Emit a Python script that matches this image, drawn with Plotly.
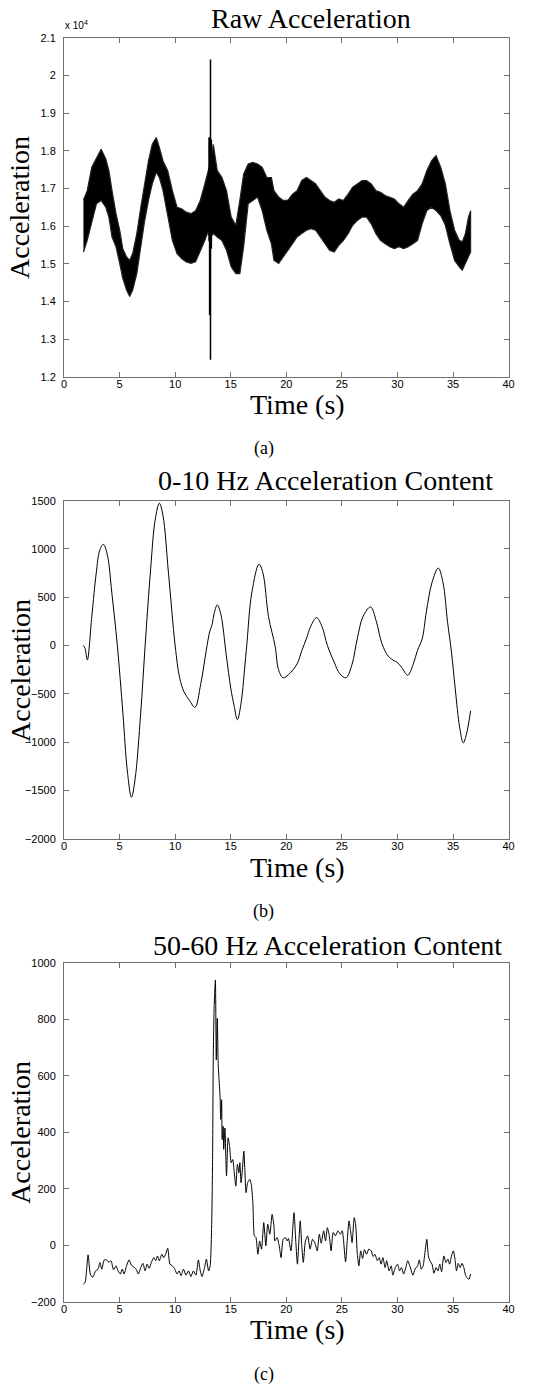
import plotly.graph_objects as go

# ---------------- Panel (a): raw acceleration (envelope of dense signal) -------------
raw_t = [1.75, 2.09, 2.5, 2.92, 3.34, 3.76, 4.04, 4.32, 4.68, 5.01,
         5.29, 5.63, 5.91, 6.18, 6.55, 6.91, 7.24, 7.6, 7.94, 8.3,
         8.58, 8.91, 9.33, 9.75, 10.17, 10.58, 11.0, 11.42, 11.84, 12.26,
         12.67, 12.95, 13.18, 13.43, 13.79, 14.21, 14.62, 15.04, 15.46, 15.82,
         16.16, 16.57, 16.99, 17.41, 17.83, 18.25, 18.66, 18.89, 19.31, 19.72,
         20.14, 20.56, 20.97, 21.39, 21.81, 22.22, 22.64, 23.06, 23.47, 23.89,
         24.31, 24.72, 25.14, 25.56, 25.97, 26.39, 26.81, 27.22, 27.64, 28.06,
         28.47, 28.89, 29.31, 29.72, 30.14, 30.56, 30.97, 31.39, 31.81, 32.22,
         32.64, 33.06, 33.47, 33.89, 34.31, 34.72, 35.14, 35.56, 35.83, 36.11,
         36.39, 36.58]
raw_upper = [16690, 16940, 17560, 17780, 18040, 17780, 17470, 16940, 16330, 15890,
             15400, 15180, 15090, 15270, 15800, 16500, 17120, 17730, 18170, 18350,
             18090, 17730, 17470, 16940, 16500, 16460, 16370, 16330, 16410, 16680,
             17120, 17430, 17700, 18170, 17470, 17290, 16940, 16240, 16020, 16680,
             17380, 17650, 17690, 17650, 17560, 17290, 17290, 16940, 16770, 16680,
             16680, 16850, 16940, 17210, 17290, 17210, 17120, 16940, 16770, 16680,
             16630, 16720, 16680, 16850, 17030, 17120, 17210, 17210, 17120, 16940,
             16900, 16810, 16770, 16720, 16590, 16500, 16680, 16850, 16940, 17120,
             17470, 17730, 17870, 17560, 17120, 16410, 15890, 15620, 15580, 15800,
             16240, 16410]
raw_lower = [15310, 15620, 16060, 16590, 16680, 16500, 16240, 15710, 15450, 15010,
             14610, 14300, 14130, 14300, 14740, 15450, 16110, 16680, 17120, 17430,
             17290, 16940, 16240, 15620, 15270, 15140, 15050, 15010, 15050, 15360,
             15620, 15840, 15700, 15800, 15710, 15620, 15360, 14920, 14740, 14740,
             15450, 16590, 16680, 16770, 16410, 15890, 15530, 15090, 15010, 15180,
             15360, 15530, 15710, 15800, 15890, 15930, 15890, 15710, 15530, 15360,
             15310, 15490, 15620, 15800, 16020, 16150, 16240, 16240, 16060, 15800,
             15620, 15530, 15450, 15400, 15450, 15400, 15450, 15530, 15620, 16060,
             16410, 16500, 16410, 16280, 16020, 15530, 15090, 14920, 14830, 15010,
             15180, 15310]
# isolated spikes around the impact
spike_t = [13.05, 13.10, 13.18, 13.26]
spike_hi = [18350, 18350, 20420, 18300]
spike_lo = [15600, 13640, 12450, 15400]

# ---------------- Panel (b): 0-10 Hz content ----------------
low_t = [1.75, 1.9, 2.1, 2.5, 2.9, 3.2, 3.54, 3.9, 4.3, 4.8,
         5.3, 5.7, 6.07, 6.4, 6.9, 7.3, 7.8, 8.2, 8.58, 8.9,
         9.4, 10.0, 10.4, 10.8, 11.3, 11.78, 12.3, 12.8, 13.1, 13.35,
         13.5, 13.79, 14.1, 14.6, 15.0, 15.3, 15.6, 15.9, 16.4, 16.9,
         17.55, 17.9, 18.4, 19.0, 19.3, 19.72, 20.2, 20.97, 21.4, 21.8,
         22.2, 22.72, 23.2, 23.7, 24.3, 24.8, 25.36, 25.9, 26.4, 26.9,
         27.58, 28.1, 28.6, 29.17, 29.6, 30.0, 30.4, 30.92, 31.4, 31.8,
         32.22, 32.6, 33.1, 33.67, 34.1, 34.5, 34.86, 35.2, 35.6, 35.92,
         36.2, 36.58]
low_v = [0, -30, -150, 300, 750, 980, 1048, 940, 550, 0,
         -700, -1300, -1570, -1380, -700, 0, 800, 1300, 1474, 1350,
         750, 0, -330, -480, -570, -640, -400, -50, 140, 230,
         330, 420, 330, -100, -440, -620, -768, -620, -50, 550,
         843, 750, 300, -10, -250, -334, -300, -190, -50, 68,
         200, 290, 200, 0, -170, -290, -334, -200, 80, 300,
         400, 250, 20, -110, -150, -175, -230, -307, -200, -50,
         68, 350, 650, 802, 650, 250, -68, -450, -850, -1007,
         -920, -676]

# ---------------- Panel (c): 50-60 Hz content ----------------
high_t = [1.75, 1.9, 2.17, 2.37, 2.59, 2.84, 3.06, 3.23, 3.4, 3.62,
          3.84, 4.04, 4.23, 4.46, 4.68, 4.87, 5.07, 5.24, 5.4, 5.63,
          5.85, 6.07, 6.35, 6.52, 6.69, 6.91, 7.1, 7.3, 7.47, 7.66,
          7.86, 8.08, 8.25, 8.41, 8.58, 8.8, 8.97, 9.14, 9.33, 9.53,
          9.75, 9.97, 10.17, 10.36, 10.53, 10.75, 10.97, 11.2, 11.42, 11.64,
          11.87, 12.09, 12.26, 12.42, 12.65, 12.81, 13.01, 13.15, 13.29, 13.37,
          13.43, 13.51, 13.62, 13.7, 13.79, 13.87, 13.93, 14.04, 14.1, 14.18,
          14.23, 14.32, 14.37, 14.48, 14.62, 14.76, 14.9, 15.04, 15.18, 15.32,
          15.46, 15.6, 15.74, 15.82, 15.93, 16.05, 16.18, 16.27, 16.38, 16.52,
          16.71, 16.85, 16.99, 17.13, 17.27, 17.44, 17.6, 17.77, 17.97, 18.16,
          18.33, 18.52, 18.72, 18.89, 18.97, 19.17, 19.36, 19.53, 19.72, 19.92,
          20.08, 20.19, 20.42, 20.69, 20.86, 21.0, 21.25, 21.39, 21.53, 21.72,
          21.92, 22.14, 22.36, 22.56, 22.78, 22.97, 23.14, 23.36, 23.53, 23.69,
          23.86, 24.03, 24.22, 24.42, 24.64, 24.86, 25.03, 25.14, 25.33, 25.47,
          25.64, 25.78, 25.92, 26.11, 26.25, 26.39, 26.53, 26.69, 26.86, 27.03,
          27.22, 27.42, 27.64, 27.81, 27.97, 28.19, 28.36, 28.53, 28.69, 28.89,
          29.03, 29.25, 29.44, 29.58, 29.81, 30.0, 30.19, 30.36, 30.56, 30.75,
          30.92, 31.11, 31.39, 31.58, 31.81, 31.97, 32.14, 32.31, 32.47, 32.64,
          32.78, 32.92, 33.11, 33.28, 33.47, 33.64, 33.81, 33.97, 34.17, 34.36,
          34.53, 34.69, 34.86, 35.03, 35.19, 35.31, 35.47, 35.64, 35.81, 35.97,
          36.14, 36.31, 36.44, 36.58]
high_v = [-138, -132, -34, -102, -114, -91, -85, -61, -85, -52,
          -52, -61, -55, -87, -73, -91, -102, -85, -102, -73,
          -52, -71, -79, -87, -102, -79, -64, -91, -67, -82,
          -61, -44, -55, -38, -55, -32, -44, -32, -11, -67,
          -73, -85, -102, -91, -108, -85, -106, -91, -111, -91,
          -106, -52, -91, -111, -79, -49, -91, -73, 80, 315,
          668, 844, 938, 656, 803, 644, 597, 527, 445, 515,
          374, 421, 339, 415, 245, 380, 350, 292, 303, 256,
          209, 286, 256, 292, 221, 268, 333, 268, 186, 221,
          233, 215, 151, 33, 27, -32, 15, -14, 80, -2,
          74, 39, 109, 68, 15, 27, -2, -44, 21, 27,
          15, 24, -20, 115, 9, -67, 86, -2, -61, 15,
          33, -14, 21, 9, -20, 39, 7, 51, 15, 62,
          35, -20, 45, 33, 51, 39, 51, 21, -59, 9,
          86, 51, 9, 98, 68, -32, -73, -20, -47, -16,
          -32, -14, -20, -40, -32, -55, -44, -67, -44, -79,
          -55, -91, -73, -106, -79, -67, -91, -79, -102, -79,
          -55, -73, -106, -85, -73, -52, -85, -73, -26, 21,
          -38, -55, -67, -99, -79, -91, -67, -94, -38, -61,
          -49, -67, -38, -20, -55, -91, -64, -79, -64, -79,
          -108, -118, -120, -102]

x_ticks = [0, 5, 10, 15, 20, 25, 30, 35, 40]
a_ticks = [12000, 13000, 14000, 15000, 16000, 17000, 18000, 19000, 20000, 21000]
a_ticktext = ["1.2", "1.3", "1.4", "1.5", "1.6", "1.7", "1.8", "1.9", "2", "2.1"]
b_ticks = [-2000, -1500, -1000, -500, 0, 500, 1000, 1500]
c_ticks = [-200, 0, 200, 400, 600, 800, 1000]

assert len(raw_t) == len(raw_upper) == len(raw_lower)
assert len(low_t) == len(low_v)
assert len(high_t) == len(high_v)

W, H = 552, 1389
def px_x(p):
    return p / W
def px_y(p):
    return 1 - p / H

fig = go.Figure()

# panel a band
band_x = raw_t + raw_t[::-1]
band_y = raw_upper + raw_lower[::-1]
fig.add_trace(go.Scatter(x=band_x, y=band_y, mode="lines", fill="toself",
                         fillcolor="black", line=dict(color="#222222", width=1.2),
                         xaxis="x", yaxis="y", hoverinfo="skip", showlegend=False))
sx, sy = [], []
for t, hi, lo in zip(spike_t, spike_hi, spike_lo):
    sx += [t, t, None]
    sy += [lo, hi, None]
fig.add_trace(go.Scatter(x=sx, y=sy, mode="lines", line=dict(color="black", width=1.5),
                         xaxis="x", yaxis="y", showlegend=False))

fig.add_trace(go.Scatter(x=low_t, y=low_v, mode="lines",
                         line=dict(color="black", width=1, shape="spline", smoothing=1.0),
                         xaxis="x2", yaxis="y2", showlegend=False))
fig.add_trace(go.Scatter(x=high_t, y=high_v, mode="lines",
                         line=dict(color="black", width=1, shape="spline", smoothing=0.6),
                         xaxis="x3", yaxis="y3", showlegend=False))

tickfont = dict(family="Liberation Sans, Arial", size=11, color="black")
axis_common = dict(showline=True, linecolor="#707070", linewidth=1, mirror="ticks",
                   ticks="inside", ticklen=5, tickcolor="#707070", tickwidth=1,
                   showgrid=False, zeroline=False, tickfont=tickfont)

xdom = [px_x(62), px_x(514)]
doms = [(32, 374), (499, 840), (965, 1307)]

layout = dict(width=W, height=H, autosize=False,
              margin=dict(l=0, r=0, t=0, b=0),
              paper_bgcolor="white", plot_bgcolor="white", showlegend=False)

for i, (top, bot) in enumerate(doms):
    suffix = "" if i == 0 else str(i + 1)
    layout["xaxis" + suffix] = dict(axis_common, domain=xdom, range=[0, 40],
                                    tickvals=x_ticks, anchor="y" + suffix,
                                    ticklabelstandoff=-3)
    ydict = dict(axis_common, domain=[px_y(bot), px_y(top)], anchor="x" + suffix,
                 ticklabelstandoff=5)
    if i == 0:
        ydict.update(range=[12000, 21000], tickvals=a_ticks, ticktext=a_ticktext)
    elif i == 1:
        ydict.update(range=[-2000, 1500], tickvals=b_ticks)
    else:
        ydict.update(range=[-200, 1000], tickvals=c_ticks)
    layout["yaxis" + suffix] = ydict

fig.update_layout(**layout)

serif = "Liberation Serif, Times New Roman, serif"
titles = [("Raw Acceleration", 313, 13), ("0-10 Hz Acceleration Content", 328, 479),
          ("50-60 Hz Acceleration Content", 330, 948)]
for txt, cx, cy in titles:
    fig.add_annotation(text=txt, x=px_x(cx), y=px_y(cy), xref="paper", yref="paper",
                       showarrow=False, xanchor="center", yanchor="middle",
                       font=dict(family=serif, size=28, color="black"))
for cy in [402, 869, 1335]:
    fig.add_annotation(text="Time (s)", x=px_x(299), y=px_y(cy), xref="paper", yref="paper",
                       showarrow=False, xanchor="center", yanchor="middle",
                       font=dict(family=serif, size=28, color="black"))
for cy in [203, 670, 1136]:
    fig.add_annotation(text="Acceleration", x=px_x(17), y=px_y(cy), xref="paper", yref="paper",
                       showarrow=False, xanchor="center", yanchor="middle", textangle=-90,
                       font=dict(family=serif, size=28, color="black"))
for txt, cy in [("(a)", 446), ("(b)", 913), ("(c)", 1380)]:
    fig.add_annotation(text=txt, x=px_x(265), y=px_y(cy), xref="paper", yref="paper",
                       showarrow=False, xanchor="center", yanchor="middle",
                       font=dict(family=serif, size=18, color="black"))
fig.add_annotation(text="x 10<sup>4</sup>", x=px_x(61), y=px_y(19), xref="paper", yref="paper",
                   showarrow=False, xanchor="left", yanchor="middle",
                   font=dict(family="Liberation Sans, Arial", size=10, color="black"))

fig.write_html("out.html")
